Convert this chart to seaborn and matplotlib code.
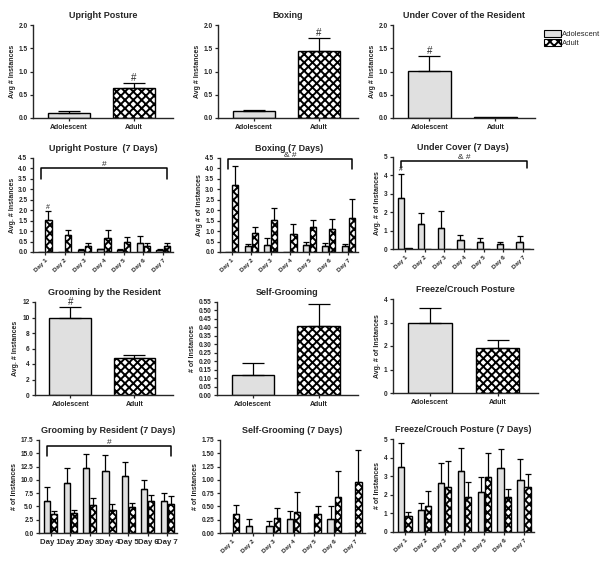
import numpy as np
import pandas as pd
import seaborn as sns
import matplotlib.pyplot as plt
from matplotlib.container import BarContainer
from matplotlib.patches import Patch

groups = ["Adolescent", "Adult"]
days = ["Day 1", "Day 2", "Day 3", "Day 4", "Day 5", "Day 6", "Day 7"]

# summary panels: [adolescent, adult]
upright_mean = [0.10, 0.64]
upright_sem = [0.06, 0.12]
boxing_mean = [0.14, 1.45]
boxing_sem = [0.025, 0.26]
cover_mean = [1.01, 0.03]
cover_sem = [0.33, 0.0]
groom_mean = [9.9, 4.75]
groom_sem = [1.4, 0.45]
selfgroom_mean = [0.12, 0.41]
selfgroom_sem = [0.07, 0.13]
freeze_mean = [3.0, 1.92]
freeze_sem = [0.63, 0.33]

# 7-day panels
upright7_adol = [0.02, 0.02, 0.10, 0.12, 0.10, 0.45, 0.10]
upright7_adol_sem = [0, 0, 0.02, 0.02, 0.02, 0.33, 0.02]
upright7_adult = [1.52, 0.80, 0.30, 0.68, 0.50, 0.30, 0.30]
upright7_adult_sem = [0.42, 0.23, 0.12, 0.38, 0.20, 0.12, 0.15]

boxing7_adol = [0, 0.28, 0.34, 0, 0.33, 0.28, 0.27]
boxing7_adol_sem = [0, 0.12, 0.31, 0, 0.15, 0.13, 0.10]
boxing7_adult = [3.2, 0.90, 1.52, 0.86, 1.20, 1.08, 1.63]
boxing7_adult_sem = [0.93, 0.30, 0.58, 0.50, 0.33, 0.52, 0.91]

cover7_adol = [2.75, 1.36, 1.15, 0.50, 0.40, 0.27, 0.40]
cover7_adol_sem = [1.35, 0.59, 0.92, 0.25, 0.22, 0.13, 0.33]
cover7_adult = [0.05, 0, 0, 0, 0, 0, 0]
cover7_adult_sem = [0, 0, 0, 0, 0, 0, 0]

groom7_adol = [6.0, 9.5, 12.3, 11.7, 10.8, 8.2, 6.0]
groom7_adol_sem = [2.6, 2.8, 2.5, 2.9, 2.5, 1.8, 1.45]
groom7_adult = [3.5, 3.7, 5.2, 4.4, 4.8, 6.0, 5.5]
groom7_adult_sem = [0.65, 0.65, 1.3, 1.0, 0.9, 1.1, 1.4]

selfgroom7_adol = [0, 0.14, 0.14, 0.26, 0, 0.26, 0]
selfgroom7_adol_sem = [0, 0.12, 0.08, 0.16, 0, 0.24, 0]
selfgroom7_adult = [0.35, 0, 0.29, 0.40, 0.35, 0.68, 0.96]
selfgroom7_adult_sem = [0.18, 0, 0.18, 0.38, 0.16, 0.49, 0.60]

freeze7_adol = [3.52, 1.20, 2.66, 3.27, 2.14, 3.45, 2.79]
freeze7_adol_sem = [1.25, 0.35, 1.04, 1.27, 0.82, 1.00, 1.12]
freeze7_adult = [0.84, 1.41, 2.41, 1.86, 2.95, 1.86, 2.41]
freeze7_adult_sem = [0.26, 0.82, 1.43, 0.82, 1.30, 0.46, 0.69]

sns.set_style("ticks")
plt.rcParams["font.family"] = ["Liberation Sans", "DejaVu Sans"]
plt.rcParams["font.weight"] = "bold"
plt.rcParams["hatch.linewidth"] = 1.4

ADOL_FC = "#e0e0e0"
ADULT_HATCH = "xxxx"
W, H = 602, 562


def rect(x0, x1, ytop, ybot):
    return [x0 / W, 1 - ybot / H, (x1 - x0) / W, (ybot - ytop) / H]


def style_bars(ax, means, sems, capsize):
    bars = [c for c in ax.containers if isinstance(c, BarContainer)]
    for i, cont in enumerate(bars):
        for bar, m, s in zip(cont, means[i], sems[i]):
            bar.set_edgecolor("black")
            bar.set_linewidth(1.0)
            if i == 0:
                bar.set_facecolor(ADOL_FC)
            else:
                bar.set_facecolor("white")
                bar.set_hatch(ADULT_HATCH)
            if s > 0:
                xc = bar.get_x() + bar.get_width() / 2
                ax.errorbar(xc, m, yerr=[[0], [s]], fmt="none", ecolor="black",
                            elinewidth=0.9, capsize=capsize, capthick=0.9, zorder=1)
    return bars


def finish(ax, title, ylabel, ylim, yticks, fmt, rotate=False, lsize=5):
    ax.set_ylim(*ylim)
    ax.set_yticks(yticks)
    ax.set_yticklabels([fmt.format(v) for v in yticks])
    ax.set_title(title, fontsize=6.5, fontweight="bold", pad=5)
    ax.set_ylabel(ylabel, fontsize=5, fontweight="bold", labelpad=2)
    ax.set_xlabel("")
    sns.despine(ax=ax)
    for sp in ("left", "bottom"):
        ax.spines[sp].set_linewidth(1.0)
    ax.tick_params(axis="y", labelsize=4.7, length=2.5, width=0.9, pad=1.5)
    ax.tick_params(axis="x", labelsize=lsize, length=2.5, width=0.9, pad=1.5)
    if rotate:
        for lab in ax.get_xticklabels():
            lab.set_rotation(45)
            lab.set_ha("right")
            lab.set_rotation_mode("anchor")


def summary(ax, means, sems, title, ylabel, ylim, yticks, fmt, mark=None):
    df = pd.DataFrame({"group": groups, "value": means})
    sns.barplot(data=df, x="group", y="value", hue="group", hue_order=groups,
                order=groups, width=0.65, errorbar=None, legend=False, ax=ax)
    style_bars(ax, [[means[0]], [means[1]]], [[sems[0]], [sems[1]]], capsize=8)
    ax.set_xlim(-0.55, 1.6)
    if mark is not None:
        ax.text(mark, means[mark] + sems[mark], "#", ha="center", va="bottom",
                fontsize=7, fontweight="normal")
    finish(ax, title, ylabel, ylim, yticks, fmt, lsize=5)


def weekly(ax, adol, adol_sem, adult, adult_sem, title, ylabel, ylim, yticks, fmt,
           rotate=True, bracket=None, mark=None, lsize=4.5):
    df = pd.DataFrame({"day": days * 2,
                       "group": [groups[0]] * 7 + [groups[1]] * 7,
                       "value": adol + adult})
    sns.barplot(data=df, x="day", y="value", hue="group", hue_order=groups,
                order=days, width=0.72, gap=0.12, errorbar=None, legend=False, ax=ax)
    bars = style_bars(ax, [adol, adult], [adol_sem, adult_sem], capsize=2)
    ax.set_xlim(-0.6, 6.5)
    if bracket is not None:
        lo, hi, label = bracket
        x0, x1 = -0.2, len(days) - 1 + 0.2
        ax.plot([x0, x0, x1, x1], [lo, hi, hi, lo], color="black", lw=1.1,
                clip_on=False)
        ax.text((x0 + x1) / 2, hi, label, ha="center", va="bottom", fontsize=6,
                fontweight="normal")
    if mark is not None:
        g, d, y = mark
        bar = bars[g][d]
        ax.text(bar.get_x() + bar.get_width() / 2, y, "#", ha="center",
                va="bottom", fontsize=5, fontweight="normal")
    finish(ax, title, ylabel, ylim, yticks, fmt, rotate=rotate, lsize=lsize)


fig = plt.figure(figsize=(6.02, 5.62), dpi=100)

ax = fig.add_axes(rect(33, 173, 25, 118))
summary(ax, upright_mean, upright_sem, "Upright Posture", "Avg # Instances",
        (0, 2.0), np.arange(0, 2.01, 0.5), "{:.1f}", mark=1)
ax = fig.add_axes(rect(218, 358, 25, 118))
summary(ax, boxing_mean, boxing_sem, "Boxing", "Avg # Instances",
        (0, 2.0), np.arange(0, 2.01, 0.5), "{:.1f}", mark=1)
ax = fig.add_axes(rect(393, 535, 25, 118))
summary(ax, cover_mean, cover_sem, "Under Cover of the Resident", "Avg # Instances",
        (0, 2.0), np.arange(0, 2.01, 0.5), "{:.1f}", mark=0)

ax = fig.add_axes(rect(33, 173, 158, 252))
weekly(ax, upright7_adol, upright7_adol_sem, upright7_adult, upright7_adult_sem,
       "Upright Posture  (7 Days)", "Avg. # Instances", (0, 4.5),
       np.arange(0, 4.51, 0.5), "{:.1f}", bracket=(3.5, 4.0, "#"), mark=(1, 0, 1.98))
ax = fig.add_axes(rect(220, 358, 158, 252))
weekly(ax, boxing7_adol, boxing7_adol_sem, boxing7_adult, boxing7_adult_sem,
       "Boxing (7 Days)", "Avg # of Instances", (0, 4.5),
       np.arange(0, 4.51, 0.5), "{:.1f}", bracket=(3.95, 4.45, "& #"))
ax = fig.add_axes(rect(393, 533, 157, 249))
weekly(ax, cover7_adol, cover7_adol_sem, cover7_adult, cover7_adult_sem,
       "Under Cover (7 Days)", "Avg. # of Instances", (0, 5),
       np.arange(0, 5.1, 1), "{:.0f}", bracket=(4.4, 4.8, "& #"), mark=(0, 0, 4.12))

ax = fig.add_axes(rect(35, 173, 302, 395))
summary(ax, groom_mean, groom_sem, "Grooming by the Resident", "Avg. # Instances",
        (0, 12), np.arange(0, 12.1, 2), "{:.0f}", mark=0)
ax = fig.add_axes(rect(217, 358, 302, 395))
summary(ax, selfgroom_mean, selfgroom_sem, "Self-Grooming", "# of Instances",
        (0, 0.55), np.arange(0, 0.551, 0.05), "{:.2f}")
ax = fig.add_axes(rect(393, 538, 299, 393))
summary(ax, freeze_mean, freeze_sem, "Freeze/Crouch Posture", "Avg. # of Instances",
        (0, 4), np.arange(0, 4.1, 1), "{:.0f}")

ax = fig.add_axes(rect(39, 177, 440, 533))
weekly(ax, groom7_adol, groom7_adol_sem, groom7_adult, groom7_adult_sem,
       "Grooming by Resident (7 Days)", "# of Instances", (0, 17.5),
       np.arange(0, 17.51, 2.5), "{:.1f}", rotate=False, bracket=(14.4, 16.4, "#"),
       lsize=5.6)
ax = fig.add_axes(rect(220, 365, 440, 533))
weekly(ax, selfgroom7_adol, selfgroom7_adol_sem, selfgroom7_adult, selfgroom7_adult_sem,
       "Self-Grooming (7 Days)", "# of Instances", (0, 1.75),
       np.arange(0, 1.751, 0.25), "{:.2f}")
ax = fig.add_axes(rect(393, 534, 439, 532))
weekly(ax, freeze7_adol, freeze7_adol_sem, freeze7_adult, freeze7_adult_sem,
       "Freeze/Crouch Posture (7 Days)", "# of Instances", (0, 5),
       np.arange(0, 5.1, 1), "{:.0f}")

handles = [Patch(facecolor=ADOL_FC, edgecolor="black", linewidth=0.8, label=groups[0]),
           Patch(facecolor="white", edgecolor="black", linewidth=0.8, hatch=ADULT_HATCH,
                 label=groups[1])]
fig.legend(handles=handles, loc="upper left", bbox_to_anchor=(540 / W, 1 - 26 / H),
           frameon=False, prop={"size": 5.5, "weight": "normal"}, handlelength=2.2,
           handleheight=1.0, handletextpad=0.2, labelspacing=0.2, borderpad=0)

fig.savefig("out.png", dpi=100)
